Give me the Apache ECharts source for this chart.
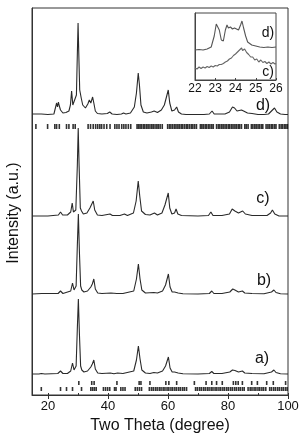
<!DOCTYPE html>
<html>
<head>
<meta charset="utf-8">
<script src="https://cdn.jsdelivr.net/npm/echarts@6/dist/echarts.min.js"></script>
<style>
html,body{margin:0;padding:0;background:#fff;}
#chart{width:302px;height:440px;}
</style>
</head>
<body>
<div id="chart"></div>
<script>
// ---- Data (2-theta in degrees, intensity in arbitrary units above each pattern's baseline) ----
const sampleNames = ['a)', 'b)', 'c)', 'd)'];
const offsets = [21, 101, 179, 280];           // vertical stacking offsets (a.u.)
const tickRowLevels = { d: 268.5, aUpper: 12, aLower: 6 };

const patternA = [[14.7,0],[17,0],[17.8,0.5],[19,0],[23.3,0.5],[24.2,3],[25,0.5],[26.5,0.5],[27.6,3],[28.2,11],[28.7,4],[29.4,8],[29.8,45],[30.15,75],[30.5,40],[30.9,8],[31.3,4],[32,2],[33.2,3],[34.3,7],[34.8,10],[35.3,14],[35.8,5],[36.6,1],[38,0.5],[40.8,1],[42,0.3],[43.2,1],[45,0.5],[48.6,3],[49.5,14],[50.15,28],[50.7,15],[51.3,4],[52.5,1],[54,0.5],[55.3,1.5],[56.5,1],[58.2,3],[59.2,8],[59.6,8],[60.15,17],[60.7,6],[61.4,2],[62.2,2],[62.8,4],[63.4,1],[65,0.3],[70,0],[73.8,0.5],[74.6,2.5],[75.3,0.5],[78,0.5],[80.6,2],[81.5,4],[82.3,3.5],[83.5,2],[84.8,3],[85.6,1],[88,0.5],[92,0.3],[94.5,2],[95.3,4],[96,1.5],[97.5,0.3],[100,0]];

const patternB = [[14.7,0],[18,0.5],[23.4,0.5],[24.2,3],[25,0.5],[27.6,3],[28.2,11],[28.7,4],[29.4,8],[29.8,48],[30.15,80],[30.5,42],[30.9,8],[31.3,4],[32,2],[33.2,3],[34.3,7],[34.8,10],[35.3,15],[35.8,5],[36.6,1],[38,0.5],[41,1],[43,0.5],[45,0.5],[48.6,3],[49.5,15],[50.15,30],[50.7,15],[51.3,4],[52.5,1],[55.3,1.5],[56.5,1],[58.2,3],[59.2,9],[59.6,9],[60.15,20],[60.7,7],[61.4,2],[62.2,2],[62.8,4],[63.4,1],[65,0.3],[70,0],[73.8,0.5],[74.6,3],[75.3,0.5],[78,0.5],[80.6,2],[81.6,5],[82.3,4],[83.5,2],[84.8,3],[85.6,1],[88,0.5],[92,0.3],[94.5,2],[95.3,4],[96,1.5],[97.5,0.3],[100,0]];

const patternC = [[14.7,0],[20,0],[23.5,1],[24.2,4],[24.9,1],[26.5,1],[27.6,4],[28.1,13],[28.5,4],[29.3,6],[29.8,50],[30.1,88],[30.4,50],[30.8,8],[31.2,5],[31.8,2],[33,3],[34,8],[34.6,10],[35.1,15],[35.6,6],[36.5,1],[38,0.5],[40.7,2],[41.5,0.5],[44,0.5],[45.5,2],[46.5,0.5],[48.5,3],[49.4,15],[50.1,35],[50.6,20],[51.2,5],[52.5,1.5],[54,1],[55.5,3],[56.5,1],[58,3],[59,11],[59.5,10],[60.1,23],[60.6,8],[61.3,2],[62.2,3],[62.7,7],[63.3,2],[64.5,0.5],[70,0],[73.5,0.5],[74.3,4],[75,0.5],[78,0.5],[80.5,2],[81.4,7],[82.3,5],[83.5,3],[84.9,5],[85.8,2],[88,0.5],[93,0.5],[94.2,3],[94.8,6],[95.6,2],[97,0],[100,0]];

const patternD = [[14.7,1],[16.5,1],[17.1,2.5],[17.8,1],[20,0.5],[22,1],[22.6,3],[22.9,12],[23.2,8],[23.5,13],[23.8,9],[24.2,5],[25,2],[26,2.5],[27,4],[27.5,10],[27.9,24],[28.3,10],[28.9,9],[29.5,20],[29.8,60],[30.05,92],[30.3,60],[30.6,25],[31.1,17],[31.6,10],[32.5,7],[33.3,11],[33.8,15],[34.3,12],[34.9,18],[35.3,12],[35.8,4],[36.5,1.5],[38,1],[39.8,1.5],[40.6,3],[41.4,1],[43,0.5],[44.5,1],[45.2,2],[46,1],[47.5,2],[48.8,8],[49.5,22],[50.1,42],[50.5,30],[51,10],[51.8,3],[53,2],[54.5,3],[55.4,4],[56.5,2.5],[57.8,5],[58.8,10],[59.5,18],[60.1,25],[60.6,12],[61.3,4],[62.2,5],[62.9,8],[63.5,3],[64.5,1],[66,0.5],[68,0.5],[70,0.5],[72,0.5],[73.8,1],[74.7,4],[75.4,1],[77,1],[79,1],[80.5,3],[81.5,8],[82.2,7],[83,4],[84.5,5],[85.2,4],[86.5,2],[88,1.5],[90,0.5],[92,0.5],[93.5,1],[94.5,4],[95.5,7],[96.3,3],[97.5,1],[99,0.5],[100,0.5]];

// reference reflection positions (2-theta)
const reflD = [16.0,19.9,22.3,22.9,23.8,26.2,27.0,28.4,29.1,33.4,34.2,35.1,35.9,36.6,37.3,37.9,38.7,39.6,40.7,42.3,43.0,43.7,44.6,45.3,46.0,46.8,47.6,49.7,50.2,50.7,51.2,51.8,52.3,52.9,53.4,54.0,54.6,55.1,55.7,56.3,56.8,57.4,58.1,59.9,60.5,61.0,61.6,62.2,62.7,63.3,63.8,64.4,64.9,65.5,66.1,66.6,67.2,67.8,68.3,68.9,69.5,70.8,71.3,71.8,72.4,72.9,73.5,74.0,74.6,75.1,76.2,76.8,77.3,77.9,78.4,79.0,79.5,80.1,80.6,81.2,81.7,82.3,82.8,83.4,83.9,84.5,85.6,86.1,86.7,87.8,88.3,88.9,89.4,90.0,90.5,91.1,91.6,92.7,93.3,93.8,94.4,94.9,95.5,96.0,97.1,97.7,98.2,98.8,99.3,99.8];
const reflAUpper = [30.3,34.6,35.4,43.0,50.4,51.0,54.0,59.3,60.3,62.9,68.8,72.7,74.6,76.2,78.1,81.8,82.6,83.4,84.8,87.9,89.8,92.9,95.1,99.2];
const reflALower = [17.8,24.2,26.2,28.2,31.2,34.3,34.9,35.5,36.1,38.5,39.2,39.9,40.6,42.2,42.7,44.3,45.0,45.7,49.1,49.8,50.5,51.2,53.8,54.5,55.1,55.8,56.4,57.1,57.7,58.4,59.0,59.7,60.3,61.0,61.6,62.3,62.9,63.6,64.2,64.9,65.5,66.2,69.2,69.8,70.5,71.1,71.8,72.4,73.1,73.7,74.4,75.0,75.7,76.3,77.0,77.6,78.3,78.9,79.6,80.2,80.9,81.5,82.2,82.8,83.5,84.1,84.8,85.4,86.7,87.4,88.0,88.7,89.3,90.0,90.6,91.3,91.9,92.6,93.9,94.5,95.2,95.8,96.5,97.1,97.8,98.4,99.1,99.7];

// inset (22-26 degrees)
const insetD = [[22,30],[22.2,30.5],[22.4,30],[22.6,31],[22.8,33],[22.95,44],[23.05,56],[23.12,58],[23.2,50],[23.3,40],[23.4,39],[23.5,50],[23.58,55],[23.65,52],[23.75,53],[23.85,51],[23.95,52],[24.05,51],[24.15,50],[24.25,55],[24.32,59],[24.4,52],[24.5,44],[24.6,38],[24.8,35],[25,34],[25.2,33],[25.4,32.5],[25.6,33],[25.8,32.5],[26,33]];
const insetC = [[22,12],[22.05,13],[22.1,11],[22.15,12.5],[22.2,13],[22.25,11.5],[22.3,11.5],[22.35,13.5],[22.4,13],[22.45,11.5],[22.5,12],[22.55,14],[22.6,13.5],[22.65,12],[22.7,12.5],[22.75,14.5],[22.8,14],[22.85,12.5],[22.9,13],[22.95,15],[23,14.5],[23.05,13.5],[23.1,14],[23.15,16],[23.2,15.5],[23.25,14.5],[23.3,15.5],[23.35,17],[23.4,16.5],[23.45,16],[23.5,18],[23.55,17.5],[23.6,19],[23.65,20.5],[23.7,21],[23.75,20.5],[23.8,22],[23.85,24],[23.9,24.5],[23.95,24],[24,26],[24.05,27.5],[24.1,28],[24.15,27],[24.2,30],[24.25,30.5],[24.3,32],[24.35,29.5],[24.4,29.5],[24.45,31],[24.5,30],[24.55,27.5],[24.6,27],[24.65,25.5],[24.7,25],[24.75,23],[24.8,22],[24.85,23],[24.9,21.5],[24.95,20],[25,19.5],[25.05,21],[25.1,20],[25.15,18],[25.2,18.5],[25.25,20],[25.3,19],[25.35,17.5],[25.4,17],[25.45,18.5],[25.5,18],[25.55,16.5],[25.6,16.5],[25.65,18],[25.7,17.5],[25.75,16],[25.8,16],[25.85,17.5],[25.9,17.5],[25.95,16],[26,16.5]];

const mainTicks = [20, 40, 60, 80, 100];
const minorTicks = [20, 30, 40, 50, 60, 70, 80, 90, 100];
const insetTicks = [22, 23, 24, 25, 26];

// ---- Build option ----
const patterns = [patternA, patternB, patternC, patternD];
const lineColor = '#2a2a2a';
const font = 'Liberation Sans, Arial, sans-serif';

const series = patterns.map((p, i) => ({
  type: 'line', xAxisIndex: 0, yAxisIndex: 0,
  data: p.map(([x, y]) => [x, y + offsets[i]]),
  showSymbol: false, symbol: 'none', silent: true,
  lineStyle: { color: lineColor, width: 1.1 },
  animation: false
}));
function tickSeries(list, level, h) {
  return {
    type: 'scatter', xAxisIndex: 0, yAxisIndex: 0, silent: true, animation: false,
    symbol: 'rect', symbolSize: [1.6, h],
    itemStyle: { color: '#000' },
    data: list.map(x => [x, level])
  };
}
series.push(tickSeries(reflD, tickRowLevels.d, 5));
series.push(tickSeries(reflAUpper, tickRowLevels.aUpper, 4));
series.push(tickSeries(reflALower, tickRowLevels.aLower, 4));
series.push({
  type: 'line', xAxisIndex: 2, yAxisIndex: 1, data: insetD, symbol: 'none', silent: true,
  lineStyle: { color: '#555', width: 1.1 }, animation: false
});
series.push({
  type: 'line', xAxisIndex: 2, yAxisIndex: 1, data: insetC, symbol: 'none', silent: true,
  lineStyle: { color: '#666', width: 1.1 }, animation: false
});

const labelPos = [[262, 359], [264, 281], [263, 199], [263, 106]];
const graphics = sampleNames.map((t, i) => ({
  type: 'text', x: labelPos[i][0], y: labelPos[i][1], z: 100,
  style: { text: t, font: '16px ' + font, fill: '#111', align: 'center', verticalAlign: 'middle' }
}));
graphics.push({ type: 'text', x: 268, y: 33, z: 100, style: { text: 'd)', font: '14px ' + font, fill: '#111', align: 'center', verticalAlign: 'middle' } });
graphics.push({ type: 'text', x: 268, y: 72, z: 100, style: { text: 'c)', font: '14px ' + font, fill: '#111', align: 'center', verticalAlign: 'middle' } });
graphics.push({
  type: 'text', x: 14, y: 213, rotation: Math.PI / 2, z: 100,
  style: { text: 'Intensity (a.u.)', font: '16px ' + font, fill: '#111', align: 'center', verticalAlign: 'middle' }
});

const option = {
  backgroundColor: '#fff',
  animation: false,
  grid: [
    { left: 32, right: 14, top: 8, bottom: 45, show: true, borderColor: '#333', borderWidth: 1, containLabel: false },
    { left: 195, width: 81, top: 13, height: 67, show: true, borderColor: '#444', borderWidth: 1, backgroundColor: '#fff', z: 10 }
  ],
  xAxis: [
    {
      gridIndex: 0, type: 'value', min: 14.7, max: 100, position: 'bottom',
      axisLine: { show: true, onZero: false, lineStyle: { color: '#333', width: 1 } },
      axisTick: { show: true, inside: false, length: 4, customValues: mainTicks, lineStyle: { color: '#333' } },
      axisLabel: { show: true, customValues: mainTicks, margin: 5, fontSize: 13, fontFamily: font, color: '#111' },
      splitLine: { show: false },
      name: 'Two Theta (degree)', nameLocation: 'middle', nameGap: 21,
      nameTextStyle: { fontSize: 16, fontFamily: font, color: '#111' }
    },
    {
      gridIndex: 0, type: 'value', min: 14.7, max: 100, position: 'bottom',
      axisLine: { show: false },
      axisTick: { show: true, inside: true, length: 2, customValues: minorTicks, lineStyle: { color: '#333' } },
      axisLabel: { show: false }, splitLine: { show: false }
    },
    {
      gridIndex: 1, type: 'value', min: 22, max: 26, interval: 1, position: 'bottom',
      axisLine: { show: true, onZero: false, lineStyle: { color: '#444' } },
      axisTick: { show: true, inside: true, length: 2, customValues: insetTicks, lineStyle: { color: '#444' } },
      axisLabel: { show: true, customValues: insetTicks, margin: 3, fontSize: 12, fontFamily: font, color: '#111' },
      splitLine: { show: false }, z: 10
    }
  ],
  yAxis: [
    {
      gridIndex: 0, type: 'value', min: 0, max: 387,
      axisLine: { show: true, lineStyle: { color: '#333' } },
      axisTick: { show: false }, axisLabel: { show: false }, splitLine: { show: false }
    },
    {
      gridIndex: 1, type: 'value', min: 0, max: 67,
      axisLine: { show: true, lineStyle: { color: '#444' } },
      axisTick: { show: false }, axisLabel: { show: false }, splitLine: { show: false }, z: 10
    }
  ],
  series: series,
  graphic: graphics
};
option.series.forEach(s => { if (s.xAxisIndex === 2) s.z = 12; });

const chart = echarts.init(document.getElementById('chart'), null, { renderer: 'canvas' });
chart.setOption(option);
</script>
</body>
</html>
